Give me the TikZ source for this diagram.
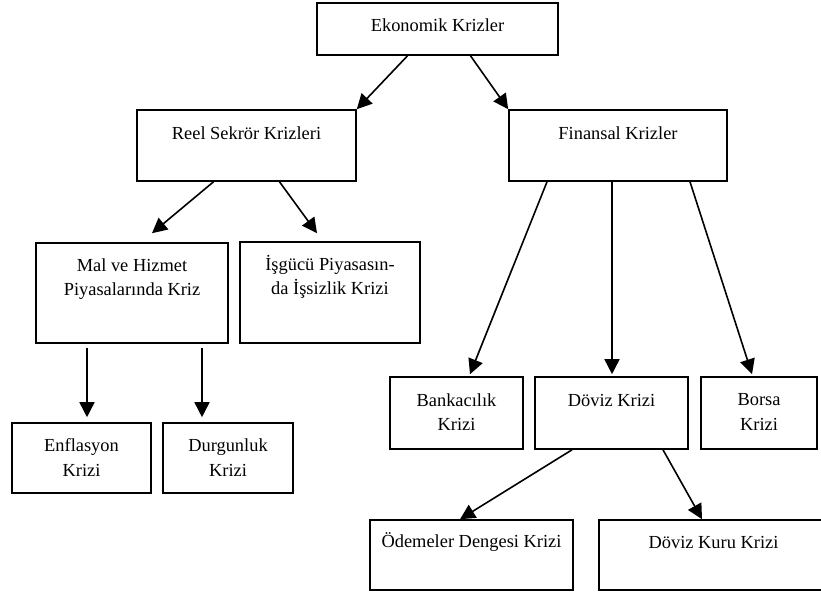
\documentclass[tikz,border=0pt]{standalone}
\usepackage{fontspec}
\setmainfont{Liberation Serif}
\usetikzlibrary{arrows.meta,calc}

\tikzset{
    boite/.style={draw, line width=1.6pt, inner sep=0pt},
    texte/.style={align=center, inner sep=0pt, font=\fontsize{18.4}{24.5}\selectfont},
    fleche/.style={line width=1.6pt, -{Triangle[length=15pt,width=15pt]}}
}

\begin{document}
\begin{tikzpicture}[x=1pt, y=-1pt]
    \useasboundingbox (0,0) rectangle (821,594);

    % Niveau 0
    \node[boite, minimum width=241pt, minimum height=52pt] (eko) at (437.5, 29) {};
    \node[texte] (ekoT) at (437.5, 25) {Ekonomik Krizler};

    % Niveau 1
    \node[boite, minimum width=219pt, minimum height=71pt] (reel) at (246.5, 145.5) {};
    \node[texte] (reelT) at (246.5, 133) {Reel Sekrör Krizleri};
    \node[boite, minimum width=218pt, minimum height=71pt] (fin) at (618, 145.5) {};
    \node[texte] (finT) at (618, 133) {Finansal Krizler};

    % Niveau 2 (reel)
    \node[boite, minimum width=192pt, minimum height=100pt] (mal) at (132, 293) {};
    \node[texte] (malT) at (132, 279) {Mal ve Hizmet\\Piyasalarında Kriz};
    \node[boite, minimum width=180pt, minimum height=101pt] (isg) at (330, 292.5) {};
    \node[texte] (isgT) at (330, 277) {İşgücü Piyasasın-\\da İşsizlik Krizi};

    % Niveau 3 (reel)
    \node[boite, minimum width=139pt, minimum height=70pt] (enf) at (81.5, 458) {};
    \node[texte] (enfT) at (81.5, 457.5) {Enflasyon\\Krizi};
    \node[boite, minimum width=130pt, minimum height=70pt] (dur) at (228, 458) {};
    \node[texte] (durT) at (228, 457.5) {Durgunluk\\Krizi};

    % Niveau 2 (finansal)
    \node[boite, minimum width=133pt, minimum height=72pt] (bank) at (456.5, 413) {};
    \node[texte] (bankT) at (456.5, 412) {Bankacılık\\Krizi};
    \node[boite, minimum width=153pt, minimum height=72pt] (dov) at (611.5, 413) {};
    \node[texte] (dovT) at (611.5, 400) {Döviz Krizi};
    \node[boite, minimum width=116pt, minimum height=72pt] (bor) at (759, 413) {};
    \node[texte] (borT) at (759, 412) {Borsa\\Krizi};

    % Niveau 3 (döviz)
    \node[boite, minimum width=203pt, minimum height=70pt] (ode) at (471.5, 555) {};
    \node[texte] (odeT) at (471.5, 542) {Ödemeler Dengesi Krizi};
    \node[boite, minimum width=224pt, minimum height=70pt] (kur) at (711, 555) {};
    \node[texte] (kurT) at (713.5, 542) {Döviz Kuru Krizi};

    % Flèches
    \draw[fleche] ($(eko.south)+(-30,0)$) -- (reel.north east);
    \draw[fleche] ($(eko.south)+(33,0)$) -- (fin.north west);

    \draw[fleche] ($(reel.south)+(-33,0)$) -- ($(mal.north)+(20,-9)$);
    \draw[fleche] ($(reel.south)+(33,0)$) -- ($(isg.north)+(-13,-8)$);

    \draw[fleche] ($(mal.south)+(-45,4)$) -- ($(enf.north)+(5.5,-5)$);
    \draw[fleche] ($(mal.south)+(70,4)$) -- ($(dur.north)+(-26,-5)$);

    \draw[fleche] ($(fin.south)+(-71,0)$) -- ($(bank.north)+(13.5,-2)$);
    \draw[fleche] ($(fin.south)+(-6,0)$) -- ($(dov.north)+(0.5,-2)$);
    \draw[fleche] ($(fin.south)+(72,0)$) -- ($(bor.north)+(-7,-2)$);

    \draw[fleche] ($(dov.south)+(-39.5,0)$) -- ($(ode.north)+(-11.5,0)$);
    \draw[fleche] ($(dov.south)+(51.5,0)$) -- ($(kur.north)+(-9,0)$);
\end{tikzpicture}
\end{document}
